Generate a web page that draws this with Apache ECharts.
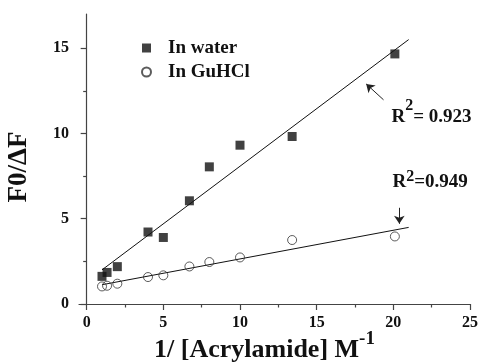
<!DOCTYPE html>
<html><head><meta charset="utf-8">
<script src="https://cdn.jsdelivr.net/npm/echarts@6/dist/echarts.min.js"></script>
<style>html,body{margin:0;padding:0;background:#fff}#c{width:480px;height:362px}</style>
</head><body><div id="c"></div>
<script>
// data
const xValues = [1, 1.33, 2, 4, 5, 6.7, 8, 10, 13.4, 20.1];
const waterValues = [1.62, 1.85, 2.19, 4.22, 3.9, 6.05, 8.04, 9.31, 9.82, 14.66];
const guhclValues = [1.03, 1.07, 1.19, 1.58, 1.68, 2.2, 2.46, 2.73, 3.75, 3.96];
const waterFitX = [1, 21];
const waterFitY = [2.0, 15.5];
const guhclFitX = [1, 21];
const guhclFitY = [1.13, 4.49];
const xMajorTicks = [0, 5, 10, 15, 20, 25];
const xMinorTicks = [2.5, 7.5, 12.5, 17.5, 22.5];
const yMajorTicks = [0, 5, 10, 15];
const yMinorTicks = [2.5, 7.5, 12.5];
const seriesNames = ['In water', 'In GuHCl'];
const r2Labels = ['0.923', '0.949'];

const SERIF = '"Liberation Serif", "Times New Roman", serif';
const pair = (xs, ys) => xs.map((x, i) => [x, ys[i]]);

const tickLabelStyle = {color: '#111', fontFamily: SERIF, fontWeight: 'bold', fontSize: 16};
const axisLine = {show: true, lineStyle: {color: '#444', width: 1.2}};
const r2Rich = (lh) => ({
  b: {fontFamily: SERIF, fontWeight: 'bold', fontSize: 19, lineHeight: lh, color: '#111', verticalAlign: 'bottom'},
  s: {fontFamily: SERIF, fontWeight: 'bold', fontSize: 16, lineHeight: 16, color: '#111', verticalAlign: 'top'}
});

const chart = echarts.init(document.getElementById('c'));
chart.setOption({
  animation: false,
  backgroundColor: '#fff',
  grid: {left: 79, right: 10, top: 14, bottom: 58, containLabel: false, outerBoundsMode: 'none'},
  legend: {
    orient: 'vertical', left: 141, top: 38, itemGap: 4, padding: 0,
    itemWidth: 9, itemHeight: 9,
    textStyle: {color: '#111', fontFamily: SERIF, fontWeight: 'bold', fontSize: 19, lineHeight: 20, padding: [0, 0, 0, 12]},
    data: [seriesNames[0], seriesNames[1]]
  },
  xAxis: [{
    type: 'value', min: -0.5, max: 25,
    splitLine: {show: false},
    axisLine: axisLine,
    axisTick: {show: true, length: 6, lineStyle: {color: '#444', width: 1.2}, customValues: xMajorTicks},
    axisLabel: Object.assign({margin: 11, customValues: xMajorTicks}, tickLabelStyle),
    name: '{t|1/ [Acrylamide] M}{s|-1}',
    nameLocation: 'middle', nameGap: 26, nameMoveOverlap: false,
    nameTextStyle: {
      padding: [0, 20, 0, 0],
      rich: {
        t: {fontFamily: SERIF, fontWeight: 'bold', fontSize: 26, lineHeight: 33, color: '#111', verticalAlign: 'bottom'},
        s: {fontFamily: SERIF, fontWeight: 'bold', fontSize: 19, lineHeight: 19, color: '#111', verticalAlign: 'top'}
      }
    }
  }, {
    type: 'value', min: -0.5, max: 25, position: 'bottom',
    splitLine: {show: false}, axisLine: {show: false},
    axisTick: {show: true, length: 3.5, lineStyle: {color: '#444', width: 1.2}, customValues: xMinorTicks},
    axisLabel: {show: false}
  }],
  yAxis: [{
    type: 'value', min: 0, max: 17,
    splitLine: {show: false},
    axisLine: axisLine,
    axisTick: {show: true, length: 6, lineStyle: {color: '#444', width: 1.2}, customValues: yMajorTicks},
    axisLabel: Object.assign({margin: 10, customValues: yMajorTicks}, tickLabelStyle),
    name: 'F0/ΔF', nameLocation: 'middle', nameRotate: 90, nameGap: 46, nameMoveOverlap: false,
    nameTextStyle: {fontFamily: SERIF, fontWeight: 'bold', fontSize: 27, color: '#111', padding: [0, 16, 0, 0]}
  }, {
    type: 'value', min: 0, max: 17, position: 'left',
    splitLine: {show: false}, axisLine: {show: false},
    axisTick: {show: true, length: 3.5, lineStyle: {color: '#444', width: 1.2}, customValues: yMinorTicks},
    axisLabel: {show: false}
  }],
  series: [
    {
      name: 'fitWater', type: 'line', data: pair(waterFitX, waterFitY),
      symbol: 'none', lineStyle: {color: '#111', width: 1}, z: 2, silent: true,
      markLine: {
        silent: true, symbol: ['none', 'arrow'], symbolSize: 8,
        lineStyle: {color: '#222', width: 1, type: 'solid'}, label: {show: false},
        data: [[{coord: [19.36, 11.97]}, {coord: [18.23, 12.9]}]]
      },
      markPoint: {
        symbol: 'circle', symbolSize: 0, silent: true,
        label: {
          show: true, position: [0, 0], align: 'left', verticalAlign: 'bottom',
          formatter: '{b|R}{s|2}{b|= ' + r2Labels[0] + '}',
          rich: r2Rich(29)
        },
        data: [{coord: [19.88, 10.4]}]
      }
    },
    {
      name: 'fitGuHCl', type: 'line', data: pair(guhclFitX, guhclFitY),
      symbol: 'none', lineStyle: {color: '#111', width: 1}, z: 2, silent: true,
      markLine: {
        silent: true, symbol: ['none', 'arrow'], symbolSize: 8,
        lineStyle: {color: '#222', width: 1, type: 'solid'}, label: {show: false},
        data: [[{coord: [20.39, 5.64]}, {coord: [20.39, 4.7]}]]
      },
      markPoint: {
        symbol: 'circle', symbolSize: 0, silent: true,
        label: {
          show: true, position: [0, 0], align: 'left', verticalAlign: 'bottom',
          formatter: '{b|R}{s|2}{b|=' + r2Labels[1] + '}',
          rich: r2Rich(23)
        },
        data: [{coord: [19.95, 6.6]}]
      }
    },
    {
      name: seriesNames[0], type: 'scatter', data: pair(xValues, waterValues),
      symbol: 'rect', symbolSize: 9, itemStyle: {color: '#111'}, z: 3
    },
    {
      name: seriesNames[1], type: 'scatter', data: pair(xValues, guhclValues),
      symbol: 'circle', symbolSize: 9,
      itemStyle: {color: 'rgba(255,255,255,0)', borderColor: '#333', borderWidth: 1}, z: 3
    }
  ]
});
</script>
</body></html>
